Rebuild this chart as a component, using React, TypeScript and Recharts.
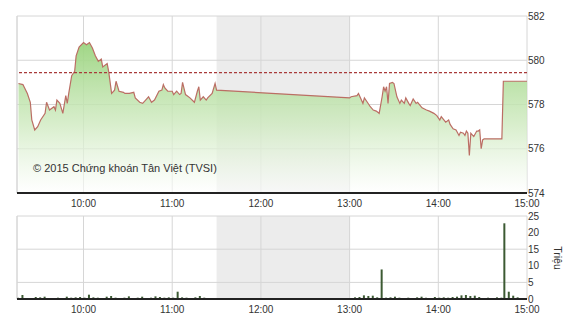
import {
  ComposedChart,
  Area,
  Bar,
  XAxis,
  YAxis,
  CartesianGrid,
  ReferenceArea,
  ReferenceLine,
} from "recharts";

const PRICE_TIMES = [
  "9:16", "9:19", "9:22", "9:24", "9:25", "9:27", "9:29", "9:31", "9:34", "9:35",
  "9:37", "9:40", "9:41", "9:42", "9:44", "9:46", "9:48", "9:49", "9:50", "9:52",
  "9:54", "9:55", "9:57", "10:00", "10:02", "10:04", "10:06", "10:08", "10:10", "10:12",
  "10:13", "10:16", "10:17", "10:19", "10:21", "10:22", "10:24", "10:27", "10:28", "10:31",
  "10:34", "10:35", "10:38", "10:40", "10:42", "10:44", "10:46", "10:48", "10:51", "10:53",
  "10:54", "10:55", "10:57", "11:00", "11:01", "11:03", "11:05", "11:06", "11:07", "11:09",
  "11:12", "11:15", "11:17", "11:18", "11:19", "11:21", "11:23", "11:24", "11:27", "11:29",
  "11:30", "13:00", "13:01", "13:05", "13:06", "13:08", "13:09", "13:10", "13:12", "13:14",
  "13:16", "13:18", "13:20", "13:22", "13:23", "13:24", "13:25", "13:26", "13:27", "13:29",
  "13:30", "13:32", "13:34", "13:35", "13:37", "13:38", "13:40", "13:41", "13:43", "13:45",
  "13:46", "13:49", "13:52", "13:54", "13:57", "13:59", "14:01", "14:02", "14:05", "14:07",
  "14:08", "14:10", "14:12", "14:14", "14:15", "14:17", "14:18", "14:19", "14:20", "14:21",
  "14:22", "14:24", "14:26", "14:27", "14:28", "14:29", "14:30", "14:31", "14:43", "14:44",
  "15:00",
];

const PRICE_VALUES = [
  578.95, 578.9, 578.5, 578.1, 577.3, 576.85, 577.0, 577.3, 577.6, 578.1,
  577.75, 577.9, 577.75, 578.2, 578.05, 577.6, 578.4, 578.05, 578.5, 579.3,
  579.5, 580.2, 580.6, 580.8, 580.7, 580.8, 580.55, 580.2, 579.95, 580.05,
  579.7, 579.85, 579.5, 578.5, 578.65, 579.05, 578.6, 578.55, 578.5, 578.5,
  578.55, 578.3, 578.1, 578.05, 578.2, 578.35, 578.1, 578.2, 578.6, 578.65,
  578.9, 578.75, 578.6, 578.6, 578.45, 578.6, 578.45, 578.5, 579.0, 578.45,
  578.3, 578.1, 578.6, 578.8, 578.2, 578.35, 578.2, 578.3, 578.5, 578.95,
  578.65, 578.3, 578.35, 578.4, 578.5, 578.2, 578.05, 578.3, 578.1, 577.9,
  577.75, 577.7, 577.6, 578.35, 578.8, 578.6, 578.8, 578.05, 578.95, 579.0,
  578.95, 578.35, 578.05, 578.2, 578.05, 578.3, 578.05, 577.95, 578.25, 578.05,
  578.1, 577.85, 577.75, 577.7, 577.6, 577.5, 577.3, 577.45, 577.2, 577.3,
  577.1, 576.9, 576.85, 576.6, 576.75, 576.7, 576.6, 576.8, 576.7, 575.7,
  576.7, 576.55, 576.8, 576.8, 576.85, 576.0, 576.4, 576.45, 576.45, 579.05,
  579.05,
];

const VOL_TIMES = [
  "9:16", "9:19", "9:22", "9:25", "9:28", "9:31", "9:34", "9:37", "9:40", "9:43",
  "9:46", "9:49", "9:52", "9:55", "9:58", "10:01", "10:04", "10:07", "10:10", "10:13",
  "10:16", "10:19", "10:22", "10:25", "10:28", "10:31", "10:34", "10:37", "10:40", "10:43",
  "10:46", "10:49", "10:52", "10:55", "10:58", "11:01", "11:04", "11:07", "11:10", "11:13",
  "11:16", "11:19", "11:22", "11:25", "11:28",
  "13:01", "13:04", "13:07", "13:10", "13:13", "13:16", "13:19", "13:22", "13:25", "13:28",
  "13:31", "13:34", "13:37", "13:40", "13:43", "13:46", "13:49", "13:52", "13:55", "13:58",
  "14:01", "14:04", "14:07", "14:10", "14:13", "14:16", "14:19", "14:22", "14:25", "14:28",
  "14:31", "14:34", "14:37", "14:40", "14:43", "14:45", "14:48", "14:51", "14:54",
];

// triệu cổ phiếu
const VOL_VALUES = [
  0.4, 1.2, 0.3, 0.3, 0.6, 0.5, 0.7, 0.3, 0.3, 0.4,
  0.3, 0.7, 0.4, 0.5, 0.6, 0.4, 1.3, 0.5, 0.4, 0.3,
  0.7, 0.9, 0.4, 0.3, 0.4, 0.8, 0.3, 0.4, 0.7, 0.3,
  0.4, 0.8, 0.6, 0.4, 0.5, 0.4, 2.2, 0.5, 0.4, 0.3,
  0.5, 0.9, 0.4, 0.3, 0.2,
  0.3, 0.5, 0.6, 1.1, 0.9, 1.0, 0.5, 8.9, 0.4, 0.5,
  0.7, 0.4, 0.3, 0.4, 0.3, 0.5, 0.7, 0.4, 0.3, 0.6,
  0.4, 0.5, 0.4, 0.6, 0.7, 1.1, 1.2, 0.9, 1.0, 0.6,
  0.3, 0.4, 0.3, 0.5, 0.4, 22.8, 2.2, 1.0, 0.5,
];

const REF_PRICE = 579.44;
const HOUR_TICKS = ["10:00", "11:00", "12:00", "13:00", "14:00", "15:00"];
const PRICE_TICKS = [574, 576, 578, 580, 582];
const VOL_TICKS = [0, 5, 10, 15, 20, 25];

const toMin = (s: string) => {
  const [h, m] = s.split(":").map(Number);
  return h * 60 + m;
};
const fmtTime = (v: number) =>
  `${Math.floor(v / 60)}:${String(v % 60).padStart(2, "0")}`;

const priceData = PRICE_TIMES.map((t, i) => ({ t: toMin(t), p: PRICE_VALUES[i] }));
const volData = VOL_TIMES.map((t, i) => ({ t: toMin(t), v: VOL_VALUES[i] }));

const X_DOMAIN = [toMin("9:15"), toMin("15:00")];
const X_TICKS = HOUR_TICKS.map(toMin);
const LUNCH = [toMin("11:30"), toMin("13:00")];

const FONT = "'Liberation Sans', Arial, sans-serif";
const tickStyle = { fontSize: 10, fill: "#333", fontFamily: FONT };

export default function App() {
  return (
    <div
      style={{
        position: "absolute",
        left: 0,
        top: 0,
        width: 570,
        height: 320,
        background: "#fff",
        fontFamily: FONT,
      }}
    >
      <div style={{ position: "absolute", left: 0, top: 0 }}>
        <ComposedChart
          width={570}
          height={215}
          data={priceData}
          margin={{ top: 16, right: 0, bottom: 0, left: 17 }}
        >
          <defs>
            <linearGradient id="priceFill" x1="0" y1="0" x2="0" y2="1">
              <stop offset="0%" stopColor="#9bd47f" stopOpacity={0.95} />
              <stop offset="55%" stopColor="#cfeac0" stopOpacity={0.8} />
              <stop offset="100%" stopColor="#ffffff" stopOpacity={0.6} />
            </linearGradient>
          </defs>
          <ReferenceArea
            x1={LUNCH[0]}
            x2={LUNCH[1]}
            y1={574}
            y2={582}
            fill="#ececec"
            fillOpacity={1}
            stroke="none"
            zIndex={-200}
          />
          <CartesianGrid stroke="#d6d6d6" />
          <ReferenceLine x={X_DOMAIN[0]} stroke="#d6d6d6" />
          <XAxis
            type="number"
            dataKey="t"
            domain={X_DOMAIN}
            ticks={X_TICKS}
            tickFormatter={fmtTime}
            axisLine={{ stroke: "#222", strokeWidth: 2 }}
            tickLine={false}
            tickSize={0}
            tickMargin={7}
            height={22}
            tick={tickStyle}
            allowDataOverflow
          />
          <YAxis
            orientation="right"
            domain={[574, 582]}
            ticks={PRICE_TICKS}
            width={43}
            axisLine={false}
            tickLine={false}
            tickSize={0}
            tickMargin={1}
            tick={{ ...tickStyle, textAnchor: "start" }}
            allowDataOverflow
          />
          <Area
            type="linear"
            dataKey="p"
            stroke="#bb6e64"
            strokeWidth={1.2}
            fill="url(#priceFill)"
            fillOpacity={1}
            dot={false}
            activeDot={false}
            isAnimationActive={false}
          />
          <ReferenceLine
            y={REF_PRICE}
            stroke="#a83a3a"
            strokeWidth={1.2}
            strokeDasharray="3 2"
          />
        </ComposedChart>
      </div>

      <div
        style={{
          position: "absolute",
          left: 33,
          top: 162,
          fontSize: 11,
          color: "#333",
          whiteSpace: "nowrap",
        }}
      >
        © 2015 Chứng khoán Tân Việt (TVSI)
      </div>

      <div style={{ position: "absolute", left: 0, top: 200 }}>
        <ComposedChart
          width={570}
          height={120}
          data={volData}
          margin={{ top: 16, right: 0, bottom: 0, left: 17 }}
        >
          <ReferenceArea
            x1={LUNCH[0]}
            x2={LUNCH[1]}
            y1={0}
            y2={25}
            fill="#ececec"
            fillOpacity={1}
            stroke="none"
            zIndex={-200}
          />
          <CartesianGrid stroke="#d6d6d6" />
          <ReferenceLine x={X_DOMAIN[0]} stroke="#d6d6d6" />
          <XAxis
            type="number"
            dataKey="t"
            domain={X_DOMAIN}
            ticks={X_TICKS}
            tickFormatter={fmtTime}
            axisLine={{ stroke: "#222", strokeWidth: 2 }}
            tickLine={false}
            tickSize={0}
            tickMargin={7}
            height={21}
            tick={tickStyle}
            allowDataOverflow
          />
          <YAxis
            orientation="right"
            domain={[0, 25]}
            ticks={VOL_TICKS}
            width={43}
            axisLine={false}
            tickLine={false}
            tickSize={0}
            tickMargin={1}
            tick={{ ...tickStyle, textAnchor: "start" }}
            allowDataOverflow
          />
          <Bar
            dataKey="v"
            fill="#3c5a33"
            barSize={2}
            isAnimationActive={false}
          />
        </ComposedChart>
      </div>

      <div
        style={{
          position: "absolute",
          left: 558,
          top: 258,
          transform: "translate(-50%, -50%) rotate(90deg)",
          fontSize: 10.5,
          color: "#333",
          whiteSpace: "nowrap",
        }}
      >
        Triệu
      </div>
    </div>
  );
}
